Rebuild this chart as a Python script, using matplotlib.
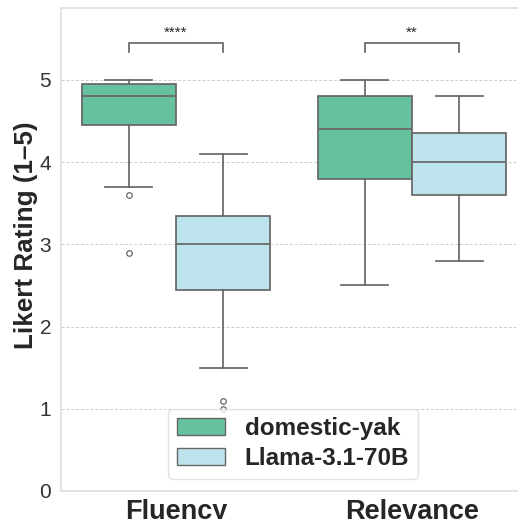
import matplotlib
matplotlib.use("Agg")
import matplotlib.pyplot as plt
from matplotlib.patches import Patch

plt.rcParams['font.family'] = ['Liberation Sans', 'DejaVu Sans']

categories = ["Fluency", "Relevance"]
models = ["domestic-yak", "Llama-3.1-70B"]
colors = ["#66c29e", "#bde3ec"]

# five-number summaries per model per category: (whislo, q1, med, q3, whishi)
yak_stats = [(3.7, 4.45, 4.8, 4.95, 5.0), (2.5, 3.8, 4.4, 4.8, 5.0)]
llama_stats = [(1.5, 2.45, 3.0, 3.35, 4.1), (2.8, 3.6, 4.0, 4.35, 4.8)]
yak_outliers = [[3.6, 2.9], []]
llama_outliers = [[1.1, 1.0], []]
sig_labels = ["****", "**"]

fig = plt.figure(figsize=(5.18, 5.19), dpi=100)
ax = fig.add_axes([61/518, 28/519, (530-61)/518, (491-8)/519])

lc = "#666666"
width = 0.4
for m, (stats, outl, col) in enumerate([(yak_stats, yak_outliers, colors[0]),
                                          (llama_stats, llama_outliers, colors[1])]):
    bxs = []
    for s, o in zip(stats, outl):
        bxs.append(dict(whislo=s[0], q1=s[1], med=s[2], q3=s[3], whishi=s[4], fliers=o))
    pos = [i - 0.2 + m * 0.4 for i in range(len(categories))]
    ax.bxp(bxs, positions=pos, widths=width, patch_artist=True, manage_ticks=False,
           boxprops=dict(facecolor=col, edgecolor=lc, linewidth=1.25),
           medianprops=dict(color=lc, linewidth=1.25),
           whiskerprops=dict(color=lc, linewidth=1.25),
           capprops=dict(color=lc, linewidth=1.25),
           capwidths=0.2,
           flierprops=dict(marker="o", markersize=4, markerfacecolor="none",
                           markeredgecolor=lc, markeredgewidth=0.9))

ax.set_xlim(-0.487, 1.5)
ax.set_ylim(0, 5.875)
ax.set_xticks(range(len(categories)))
ax.set_xticklabels(categories, fontsize=19.5, fontweight="bold")
ax.set_yticks([0, 1, 2, 3, 4, 5])
ax.tick_params(axis="y", labelsize=15, length=0, colors="#333333", pad=7)
ax.tick_params(axis="x", length=0, pad=6, colors="#262626")
ax.set_ylabel("Likert Rating (1–5)", fontsize=18.7, fontweight="bold",
              color="#262626")
ax.yaxis.set_label_coords(-0.05, 0.53)
ax.yaxis.grid(True, linestyle=(0, (3, 2)), color="#cccccc", linewidth=0.7)
ax.xaxis.grid(False)
ax.set_axisbelow(True)
for sp in ax.spines.values():
    sp.set_color("#e0e0e0")
    sp.set_linewidth(1.3)

for i, lab in enumerate(sig_labels):
    x1, x2 = i - 0.2, i + 0.2
    y, h = 5.34, 0.11
    ax.plot([x1, x1, x2, x2], [y, y + h, y + h, y], color=lc, lw=1.25)
    ax.text(i, y + h + 0.04, lab, ha="center", va="bottom", fontsize=11, color="#262626")

handles = [Patch(facecolor=colors[0], edgecolor=lc, label=models[0]),
           Patch(facecolor=colors[1], edgecolor=lc, label=models[1])]
leg = ax.legend(handles=handles, loc="lower left", bbox_to_anchor=((168-61)/469, 12/483),
                prop=dict(size=17.5, weight="bold"), handlelength=2.0, handleheight=0.7,
                borderpad=0.35, labelspacing=0.3, handletextpad=0.8, frameon=True,
                borderaxespad=0, framealpha=0.8)
leg.get_frame().set_edgecolor("#dddddd")
for t in leg.get_texts():
    t.set_color("#262626")

fig.savefig("out.png", dpi=100)
